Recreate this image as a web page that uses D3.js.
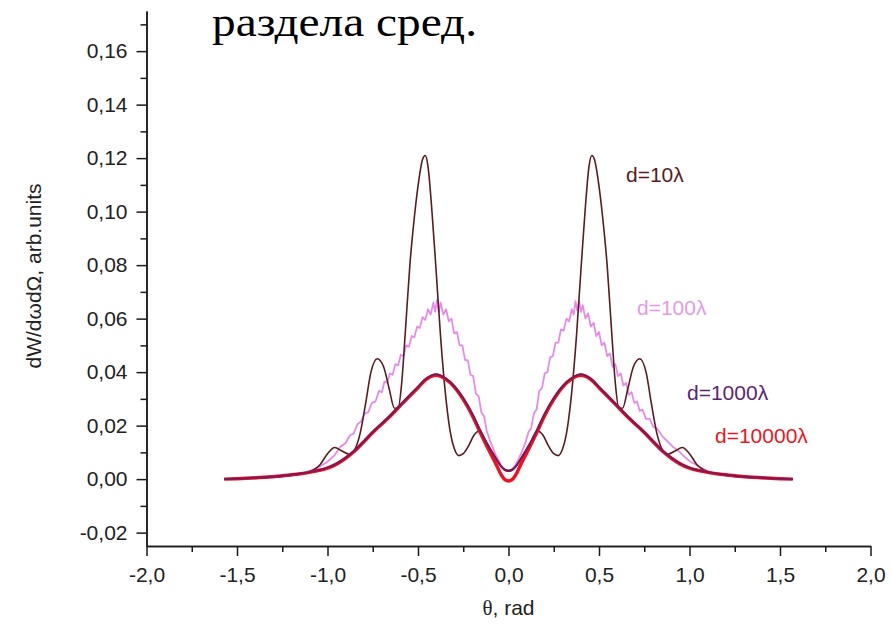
<!DOCTYPE html>
<html>
<head>
<meta charset="utf-8">
<script src="https://cdn.jsdelivr.net/npm/d3@7"></script>
<style>
  body { margin: 0; background: #fff; }
  .axis path, .axis line { stroke: #1a1a1a; stroke-width: 1.5px; }
  .axis text { font-family: "Liberation Sans", Arial, sans-serif; font-size: 21px; fill: #222; }
</style>
</head>
<body>
<div id="chart"></div>
<script>
// tick values and labels
var xTicks = [-2, -1.5, -1, -0.5, 0, 0.5, 1, 1.5, 2];
var xTickLabels = ["-2,0", "-1,5", "-1,0", "-0,5", "0,0", "0,5", "1,0", "1,5", "2,0"];
var xMinorTicks = [-1.75, -1.25, -0.75, -0.25, 0.25, 0.75, 1.25, 1.75];
var yTicks = [-0.02, 0, 0.02, 0.04, 0.06, 0.08, 0.10, 0.12, 0.14, 0.16];
var yTickLabels = ["-0,02", "0,00", "0,02", "0,04", "0,06", "0,08", "0,10", "0,12", "0,14", "0,16"];
var yMinorTicks = [-0.01, 0.01, 0.03, 0.05, 0.07, 0.09, 0.11, 0.13, 0.15, 0.17];

// series names
var seriesNames = ["d=10λ", "d=100λ", "d=1000λ", "d=10000λ"];

// d=10λ  [theta, value]
var d10 = [
  [-1.5708, 0], [-1.35, 0.0006], [-1.20, 0.0014], [-1.10, 0.0028], [-1.04, 0.0055],
  [-1.00, 0.0095], [-0.96, 0.0118], [-0.92, 0.0105], [-0.88, 0.0093], [-0.85, 0.0110],
  [-0.82, 0.0170], [-0.79, 0.0280], [-0.76, 0.0400], [-0.725, 0.0450], [-0.69, 0.0420],
  [-0.66, 0.0340], [-0.63, 0.0265], [-0.61, 0.0265], [-0.59, 0.0360], [-0.57, 0.0550],
  [-0.545, 0.0800], [-0.52, 0.0980], [-0.495, 0.1120], [-0.475, 0.1195], [-0.46, 0.1210],
  [-0.445, 0.1170], [-0.425, 0.1020], [-0.40, 0.0780], [-0.375, 0.0530], [-0.35, 0.0330],
  [-0.325, 0.0190], [-0.30, 0.0115], [-0.275, 0.0088], [-0.25, 0.0095], [-0.22, 0.0125],
  [-0.19, 0.0165], [-0.16, 0.0180], [-0.12, 0.0135], [-0.07, 0.0078], [-0.04, 0.0047],
  [-0.02, 0.0036], [0, 0.0033], [0.02, 0.0036],
  [0.04, 0.0047], [0.07, 0.0078], [0.12, 0.0135], [0.16, 0.0180], [0.19, 0.0165],
  [0.22, 0.0125], [0.25, 0.0095], [0.275, 0.0088], [0.30, 0.0115], [0.325, 0.0190],
  [0.35, 0.0330], [0.375, 0.0530], [0.40, 0.0780], [0.425, 0.1020], [0.445, 0.1170],
  [0.46, 0.1210], [0.475, 0.1195], [0.495, 0.1120], [0.52, 0.0980], [0.545, 0.0800],
  [0.57, 0.0550], [0.59, 0.0360], [0.61, 0.0265], [0.63, 0.0265], [0.66, 0.0340],
  [0.69, 0.0420], [0.725, 0.0450], [0.76, 0.0400], [0.79, 0.0280], [0.82, 0.0170],
  [0.85, 0.0110], [0.88, 0.0093], [0.92, 0.0105], [0.96, 0.0118], [1.00, 0.0095],
  [1.04, 0.0055], [1.10, 0.0028], [1.20, 0.0014], [1.35, 0.0006], [1.5708, 0]
];

// d=100λ
var d100 = [
  [-1.5708, 0], [-1.40, 0.0003], [-1.30, 0.0007], [-1.20, 0.0014], [-1.12, 0.0025],
  [-1.06, 0.0040], [-1.00, 0.0065], [-0.96, 0.0090], [-0.93, 0.0120], [-0.90, 0.0135],
  [-0.875, 0.0165], [-0.855, 0.0170], [-0.835, 0.0205], [-0.815, 0.0215], [-0.795, 0.0245],
  [-0.775, 0.0250], [-0.755, 0.0285], [-0.735, 0.0290], [-0.715, 0.0330], [-0.70, 0.0325],
  [-0.685, 0.0365], [-0.67, 0.0360], [-0.655, 0.0395], [-0.64, 0.0390], [-0.625, 0.0430],
  [-0.61, 0.0425], [-0.595, 0.0465], [-0.58, 0.0460], [-0.565, 0.0500], [-0.55, 0.0495],
  [-0.535, 0.0535], [-0.52, 0.0530], [-0.505, 0.0570], [-0.49, 0.0565], [-0.475, 0.0605],
  [-0.46, 0.0595], [-0.445, 0.0635], [-0.43, 0.0615], [-0.415, 0.0660], [-0.405, 0.0625],
  [-0.395, 0.0670], [-0.385, 0.0625], [-0.375, 0.0660], [-0.36, 0.0615], [-0.345, 0.0635],
  [-0.33, 0.0590], [-0.315, 0.0600], [-0.30, 0.0545], [-0.285, 0.0550], [-0.27, 0.0500],
  [-0.255, 0.0500], [-0.24, 0.0445], [-0.225, 0.0445], [-0.21, 0.0390], [-0.195, 0.0385],
  [-0.18, 0.0320], [-0.165, 0.0310], [-0.15, 0.0250], [-0.135, 0.0235], [-0.12, 0.0180],
  [-0.10, 0.0140], [-0.07, 0.0090], [-0.04, 0.0050], [-0.02, 0.0036],
  [0, 0.0030],
  [0.02, 0.0037], [0.04, 0.0055], [0.07, 0.0095], [0.095, 0.0140], [0.11, 0.0175], [0.125, 0.0190],
  [0.14, 0.0245], [0.155, 0.0260], [0.17, 0.0330], [0.185, 0.0340], [0.20, 0.0395],
  [0.215, 0.0400], [0.23, 0.0455], [0.245, 0.0460], [0.26, 0.0510], [0.275, 0.0510],
  [0.29, 0.0560], [0.305, 0.0555], [0.32, 0.0600], [0.335, 0.0590], [0.35, 0.0635],
  [0.36, 0.0615], [0.37, 0.0665], [0.38, 0.0630], [0.39, 0.0665], [0.40, 0.0625],
  [0.41, 0.0650], [0.425, 0.0600], [0.44, 0.0620], [0.455, 0.0570], [0.47, 0.0585],
  [0.485, 0.0535], [0.50, 0.0550], [0.515, 0.0500], [0.53, 0.0510], [0.545, 0.0460],
  [0.56, 0.0470], [0.575, 0.0420], [0.59, 0.0430], [0.605, 0.0385], [0.62, 0.0395],
  [0.635, 0.0350], [0.65, 0.0360], [0.665, 0.0315], [0.68, 0.0325], [0.695, 0.0285],
  [0.71, 0.0290], [0.725, 0.0255], [0.74, 0.0260], [0.76, 0.0225], [0.78, 0.0225],
  [0.80, 0.0195], [0.82, 0.0190], [0.85, 0.0160], [0.88, 0.0140], [0.91, 0.0120],
  [0.94, 0.0105], [0.97, 0.0085], [1.00, 0.0068], [1.05, 0.0048], [1.10, 0.0030],
  [1.16, 0.0019], [1.22, 0.0012], [1.30, 0.0007], [1.40, 0.0003], [1.5708, 0]
];

// d=1000λ
var d1000 = [
  [-1.5708, 0], [-1.45, 0.0003], [-1.35, 0.0007], [-1.26, 0.0012], [-1.17, 0.0019],
  [-1.08, 0.0029], [-1.00, 0.0043], [-0.95, 0.0058], [-0.90, 0.0080], [-0.85, 0.0107],
  [-0.80, 0.0141], [-0.75, 0.0176], [-0.70, 0.0208], [-0.65, 0.0240], [-0.60, 0.0275],
  [-0.55, 0.0310], [-0.50, 0.0345], [-0.45, 0.0378], [-0.40, 0.0392], [-0.35, 0.0378],
  [-0.30, 0.0348], [-0.25, 0.0303], [-0.20, 0.0245], [-0.16, 0.0188], [-0.12, 0.0135],
  [-0.07, 0.0078], [-0.04, 0.0047], [-0.02, 0.0034], [0, 0.0030], [0.02, 0.0034],
  [0.04, 0.0047], [0.07, 0.0078], [0.12, 0.0135], [0.16, 0.0188], [0.20, 0.0245],
  [0.25, 0.0303], [0.30, 0.0348], [0.35, 0.0378], [0.40, 0.0392], [0.45, 0.0378],
  [0.50, 0.0345], [0.55, 0.0310], [0.60, 0.0275], [0.65, 0.0240], [0.70, 0.0208],
  [0.75, 0.0176], [0.80, 0.0141], [0.85, 0.0107], [0.90, 0.0080], [0.95, 0.0058],
  [1.00, 0.0043], [1.08, 0.0029], [1.17, 0.0019], [1.26, 0.0012], [1.35, 0.0007],
  [1.45, 0.0003], [1.5708, 0]
];

// d=10000λ
var d10000 = [
  [-1.5708, 0], [-1.45, 0.0003], [-1.35, 0.0007], [-1.26, 0.0012], [-1.17, 0.0018],
  [-1.08, 0.0028], [-1.00, 0.0041], [-0.95, 0.0056], [-0.90, 0.0078], [-0.85, 0.0105],
  [-0.80, 0.0139], [-0.75, 0.0174], [-0.70, 0.0206], [-0.65, 0.0238], [-0.60, 0.0273],
  [-0.55, 0.0308], [-0.50, 0.0342], [-0.45, 0.0375], [-0.40, 0.0388], [-0.35, 0.0375],
  [-0.30, 0.0345], [-0.25, 0.0298], [-0.20, 0.0238], [-0.16, 0.0180], [-0.12, 0.0124],
  [-0.07, 0.0058], [-0.04, 0.0016], [-0.02, -0.0002], [0, -0.0007], [0.02, -0.0002],
  [0.04, 0.0016], [0.07, 0.0058], [0.12, 0.0124], [0.16, 0.0180], [0.20, 0.0238],
  [0.25, 0.0298], [0.30, 0.0345], [0.35, 0.0375], [0.40, 0.0388], [0.45, 0.0375],
  [0.50, 0.0342], [0.55, 0.0308], [0.60, 0.0273], [0.65, 0.0238], [0.70, 0.0206],
  [0.75, 0.0174], [0.80, 0.0139], [0.85, 0.0105], [0.90, 0.0078], [0.95, 0.0056],
  [1.00, 0.0041], [1.08, 0.0028], [1.17, 0.0018], [1.26, 0.0012], [1.35, 0.0007],
  [1.45, 0.0003], [1.5708, 0]
];

var svgWidth = 891;
var svgHeight = 629;

var margin = {
  top: 11,
  right: 20.5,
  bottom: 83,
  left: 146.5
};

var width = svgWidth - margin.left - margin.right;
var height = svgHeight - margin.top - margin.bottom;

var svg = d3.select("#chart")
  .append("svg")
  .attr("width", svgWidth)
  .attr("height", svgHeight)
  .style("background", "#fff");

var chartGroup = svg.append("g")
  .attr("transform", `translate(${margin.left}, ${margin.top})`);

var xScale = d3.scaleLinear().domain([-2, 2]).range([0, width]);
var yScale = d3.scaleLinear().domain([-0.025, 0.175]).range([height, 0]);

// minor ticks first, then major ticks with labels
chartGroup.append("g")
  .attr("class", "axis")
  .attr("transform", `translate(0, ${height})`)
  .call(d3.axisBottom(xScale).tickValues(xMinorTicks).tickSize(6).tickSizeOuter(0).tickFormat(""));

chartGroup.append("g")
  .attr("class", "axis")
  .attr("transform", `translate(0, ${height})`)
  .call(d3.axisBottom(xScale).tickValues(xTicks).tickSize(10).tickSizeOuter(0).tickPadding(11)
    .tickFormat((d, i) => xTickLabels[i]));

chartGroup.append("g")
  .attr("class", "axis")
  .call(d3.axisLeft(yScale).tickValues(yMinorTicks).tickSize(6).tickSizeOuter(0).tickFormat(""));

chartGroup.append("g")
  .attr("class", "axis")
  .call(d3.axisLeft(yScale).tickValues(yTicks).tickSize(10).tickSizeOuter(0).tickPadding(9)
    .tickFormat((d, i) => yTickLabels[i]));

// curves
var line = d3.line()
  .x(d => xScale(d[0]))
  .y(d => yScale(d[1]))
  .curve(d3.curveMonotoneX);

var jaggedLine = d3.line()
  .x(d => xScale(d[0]))
  .y(d => yScale(d[1]));

chartGroup.append("path")
  .datum(d100)
  .attr("fill", "none")
  .attr("stroke", "#e98ae9")
  .attr("stroke-width", 1.8)
  .attr("stroke-linejoin", "round")
  .attr("d", jaggedLine);

chartGroup.append("path")
  .datum(d10)
  .attr("fill", "none")
  .attr("stroke", "#5a1c1e")
  .attr("stroke-width", 1.6)
  .attr("d", line);

chartGroup.append("path")
  .datum(d10000)
  .attr("fill", "none")
  .attr("stroke", "#f01020")
  .attr("stroke-width", 3.5)
  .attr("d", line);

chartGroup.append("path")
  .datum(d1000)
  .attr("fill", "none")
  .attr("stroke", "#7a1a5a")
  .attr("stroke-width", 2)
  .attr("d", line);

// labels next to the curves
var labelFont = "\"Liberation Sans\", Arial, sans-serif";
var labelColors = ["#5a1c1e", "#e59be5", "#5b2676", "#f0151e"];
var labelPos = [[626, 182], [637, 315], [687, 400], [715, 443]];

svg.selectAll(".curveLabel")
  .data(seriesNames)
  .enter()
  .append("text")
  .classed("curveLabel", true)
  .attr("x", (d, i) => labelPos[i][0])
  .attr("y", (d, i) => labelPos[i][1])
  .attr("font-family", labelFont)
  .attr("font-size", "21px")
  .attr("fill", (d, i) => labelColors[i])
  .text(d => d);

// axis titles
var xTitle = svg.append("text")
  .attr("x", margin.left + xScale(0))
  .attr("y", 615)
  .attr("text-anchor", "middle")
  .attr("font-family", labelFont)
  .attr("font-size", "21px")
  .attr("fill", "#222");
xTitle.append("tspan")
  .attr("font-family", "\"Liberation Serif\", serif")
  .text("θ");
xTitle.append("tspan").text(", rad");

svg.append("text")
  .attr("transform", "translate(41, 276) rotate(-90)")
  .attr("text-anchor", "middle")
  .attr("font-family", labelFont)
  .attr("font-size", "21px")
  .attr("fill", "#222")
  .text("dW/dωdΩ, arb.units");

// text fragment above the plot
svg.append("text")
  .attr("x", 212)
  .attr("y", 36)
  .attr("font-family", "\"Liberation Serif\", \"Times New Roman\", serif")
  .attr("font-size", "42px")
  .attr("textLength", 265)
  .attr("lengthAdjust", "spacingAndGlyphs")
  .attr("fill", "#000")
  .text("раздела сред.");
</script>
</body>
</html>
